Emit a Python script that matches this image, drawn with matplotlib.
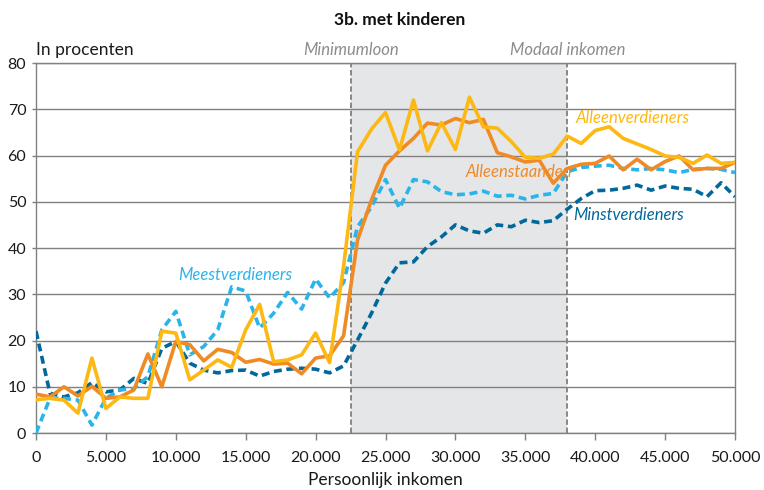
import matplotlib
matplotlib.use("Agg")
import matplotlib.pyplot as plt
import numpy as np

plt.rcParams['font.family'] = ['Lato', 'DejaVu Sans']

income = list(range(0, 51000, 1000))

alleenverdieners = [7.2, 7.5, 7.1, 4.3, 16.2, 5.3, 7.8, 7.5, 7.5, 22.0, 21.6,
                    11.5, 13.6, 15.8, 14.2, 22.3, 27.8, 15.4, 15.8, 16.9, 21.6,
                    15.2, 36.0, 60.8, 65.7, 69.3, 61.2, 72.0, 61.0, 67.1, 61.3,
                    72.6, 66.2, 65.9, 63.0, 59.6, 59.4, 60.3, 64.2, 62.6, 65.4,
                    66.2, 63.7, 62.5, 61.3, 59.9, 59.6, 58.3, 60.1, 58.3, 58.5]

alleenstaanden = [8.4, 7.8, 10.0, 8.0, 10.1, 7.5, 7.8, 9.3, 17.1, 10.0, 19.8,
                  19.1, 15.6, 18.1, 17.4, 15.3, 15.9, 14.9, 15.1, 12.8, 16.2,
                  16.7, 21.0, 41.7, 50.4, 57.9, 61.0, 63.7, 67.0, 66.6, 68.0,
                  67.1, 67.8, 60.6, 59.7, 58.6, 59.0, 54.0, 57.2, 58.1, 58.3,
                  59.9, 56.9, 59.2, 56.9, 58.7, 59.9, 56.9, 57.2, 57.2, 58.5]

meestverdieners = [0.0, 7.5, 7.5, 7.1, 1.7, 7.5, 9.3, 9.6, 12.2, 22.3, 26.3,
                   16.9, 18.7, 22.3, 31.6, 30.7, 22.7, 25.9, 30.4, 26.8, 33.3,
                   29.2, 32.5, 44.6, 48.9, 54.8, 48.6, 54.8, 54.3, 52.2, 51.5,
                   51.7, 52.3, 51.2, 51.4, 50.6, 51.4, 51.8, 56.5, 57.4, 57.7,
                   57.9, 57.2, 56.9, 57.2, 56.9, 56.3, 57.0, 57.2, 57.0, 56.3]

minstverdieners = [22.0, 8.6, 7.8, 8.7, 10.9, 8.9, 9.3, 11.8, 10.7, 18.3, 19.8,
                   15.1, 13.6, 13.0, 13.5, 13.6, 12.3, 13.3, 13.8, 14.0, 13.8,
                   13.0, 14.5, 20.1, 25.9, 32.4, 36.8, 37.0, 40.3, 42.4, 45.0,
                   43.7, 43.2, 45.0, 44.6, 46.0, 45.5, 45.9, 48.4, 50.7, 52.4,
                   52.5, 52.9, 53.6, 52.5, 53.4, 52.9, 52.7, 51.1, 54.1, 51.1]

minimumloon = 22500
modaal = 38000

x_ticks = list(range(0, 50001, 5000))
x_tick_labels = ['0', '5.000', '10.000', '15.000', '20.000', '25.000',
                 '30.000', '35.000', '40.000', '45.000', '50.000']
y_ticks = list(range(0, 81, 10))

c_yellow = '#FDB813'
c_orange = '#F08A24'
c_light = '#29B4EA'
c_dark = '#01689B'
grid_c = '#808080'

fig = plt.figure(figsize=(7.64, 4.90), dpi=100)
ax = fig.add_axes([36/764, 1-433/490, (735-36)/764, (433-63)/490])

ax.axvspan(minimumloon, modaal, color='#E5E6E8', zorder=0, lw=0)
for v in (minimumloon, modaal):
    ax.axvline(v, color='#7f7f7f', lw=1.3, ls=(0, (3, 1.5)), zorder=1)

for y in y_ticks:
    ax.axhline(y, color=grid_c, lw=1.0, zorder=1)

lw = 2.6
ax.plot(income, minstverdieners, color=c_dark, lw=lw, ls=(0, (2.2, 1.3)), zorder=3)
ax.plot(income, meestverdieners, color=c_light, lw=lw, ls=(0, (2.2, 1.3)), zorder=3)
ax.plot(income, alleenstaanden, color=c_orange, lw=lw, zorder=4)
ax.plot(income, alleenverdieners, color=c_yellow, lw=lw, zorder=5)

ax.set_xlim(0, 50000)
ax.set_ylim(0, 80)
ax.set_xticks(x_ticks)
ax.set_xticklabels(x_tick_labels)
ax.set_yticks(y_ticks)
ax.tick_params(axis='x', direction='out', length=5, width=1, color=grid_c,
               labelsize=11.5, pad=8, labelcolor='#1a1a1a')
ax.tick_params(axis='y', direction='out', length=3, width=1, color=grid_c,
               labelsize=11.5, pad=4, labelcolor='#1a1a1a')
for s in ax.spines.values():
    s.set_color(grid_c)
    s.set_linewidth(1.0)

ax.set_xlabel('Persoonlijk inkomen', fontsize=12.5, labelpad=5, color='#1a1a1a')

txt_kw = dict(fontsize=12, style='italic', zorder=7)
ax.text(10200, 34.2, 'Meestverdieners', color=c_light, va='center', **txt_kw)
ax.text(30700, 56.4, 'Alleenstaanden', color=c_orange, va='center', **txt_kw)
ax.text(38600, 68.1, 'Alleenverdieners', color=c_yellow, va='center', **txt_kw)
ax.text(38400, 47.1, 'Minstverdieners', color=c_dark, va='center', **txt_kw)

ax.text(minimumloon, 81, 'Minimumloon', color='#8c8c8c', ha='center',
        va='bottom', fontsize=12, style='italic')
ax.text(modaal, 81, 'Modaal inkomen', color='#8c8c8c', ha='center',
        va='bottom', fontsize=12, style='italic')
ax.text(0, 81, 'In procenten', color='#1a1a1a', ha='left', va='bottom',
        fontsize=12.5)

fig.text(400/764, 1-20/490, '3b. met kinderen', ha='center', va='center',
         fontsize=12.5, fontweight='bold', color='#111111')

fig.savefig('out.png', dpi=100)
